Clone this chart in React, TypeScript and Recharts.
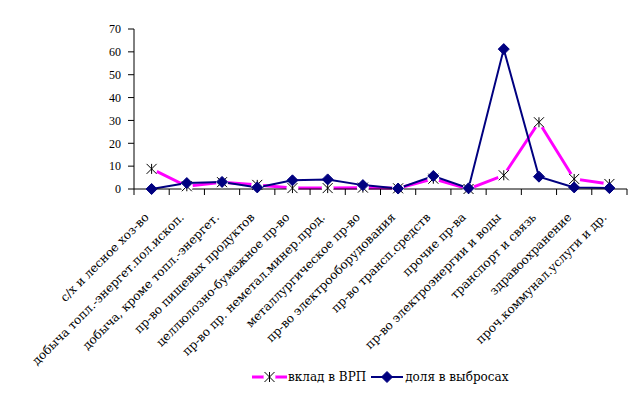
import React from 'react';
import { LineChart, Line, XAxis, YAxis, Legend } from 'recharts';

const categories = [
  'с/х и лесное хоз-во',
  'добыча топл.-энергет.пол.ископ.',
  'добыча, кроме  топл.-энергет.',
  'пр-во пищевых продуктов',
  'целлюлозно-бумажное пр-во',
  'пр-во пр. неметал.минер.прод.',
  'металлургическое пр-во',
  'пр-во электрооборудования',
  'пр-во трансп.средств',
  'прочие пр-ва',
  'пр-во электроэнергии и воды',
  'транспорт и связь',
  'здравоохранение',
  'проч.коммунал.услуги и др.',
];
const vrpShare = [8.8, 1.2, 3, 1.8, 0.4, 0.4, 0.6, 0.3, 4.5, 0, 6, 29.2, 4.4, 2.2];
const emissionShare = [0, 2.6, 3.1, 0.7, 3.8, 4.2, 1.7, 0.2, 5.7, 0.3, 61.2, 5.4, 0.7, 0.4];
const yTicks = [0, 10, 20, 30, 40, 50, 60, 70];

const data = categories.map((c, i) => ({ name: c, vrp: vrpShare[i], emis: emissionShare[i] }));

const FONT = '"Liberation Serif", "Times New Roman", serif';
const LABEL_FONT = '"DejaVu Serif", serif';
const MAGENTA = '#FF00FF';
const NAVY = '#000080';
const PLOT_BOTTOM = 189;

const StarDot = (props: any) => {
  const { cx, cy } = props;
  if (cx == null || cy == null) return null;
  const r = 5;
  return (
    <g>
      <circle cx={cx} cy={cy} r={6} fill="#fff" stroke="none" />
      <line x1={cx - r} y1={cy - r} x2={cx + r} y2={cy + r} stroke="#000" strokeWidth={1} />
      <line x1={cx - r} y1={cy + r} x2={cx + r} y2={cy - r} stroke="#000" strokeWidth={1} />
      <line x1={cx} y1={cy - r} x2={cx} y2={cy + r} stroke="#000" strokeWidth={1} />
    </g>
  );
};

const DiamondDot = (props: any) => {
  const { cx, cy } = props;
  if (cx == null || cy == null) return null;
  const r = 5.5;
  return <path d={`M${cx},${cy - r}L${cx + r},${cy}L${cx},${cy + r}L${cx - r},${cy}Z`} fill={NAVY} stroke={NAVY} />;
};

const CatTick = (props: any) => {
  const { x, payload, index, width, visibleTicksCount } = props;
  const n = visibleTicksCount || categories.length;
  const half = (width || 493) / n / 2;
  const y = PLOT_BOTTOM;
  return (
    <g>
      <line x1={x - half} y1={y} x2={x - half} y2={y + 6} stroke="#000" strokeWidth={1} />
      {index === n - 1 ? <line x1={x + half} y1={y} x2={x + half} y2={y + 6} stroke="#000" strokeWidth={1} /> : null}
      <g transform={`translate(${x - 2},${y + 29})`}>
        <text x={0} y={0} textAnchor="end" transform="rotate(-45)" fontSize={12} fontFamily={LABEL_FONT} fill="#000">
          {payload.value}
        </text>
      </g>
    </g>
  );
};

const LegendContent = () => (
  <div style={{ display: 'flex', alignItems: 'center', fontFamily: LABEL_FONT, fontSize: 12, color: '#000', height: 30 }}>
    <svg width={35} height={14}>
      <line x1={0} y1={7} x2={35} y2={7} stroke={MAGENTA} strokeWidth={3} />
      <StarDot cx={17.5} cy={7} />
    </svg>
    <span style={{ marginLeft: 1, marginRight: 5, whiteSpace: 'pre' }}>вклад в ВРП</span>
    <svg width={32} height={14}>
      <line x1={0} y1={7} x2={32} y2={7} stroke={NAVY} strokeWidth={2} />
      <DiamondDot cx={16} cy={7} />
    </svg>
    <span style={{ marginLeft: 2, whiteSpace: 'pre' }}>доля в выбросах</span>
  </div>
);

export default function App() {
  return (
    <div style={{ position: 'absolute', left: 0, top: 0, background: '#fff' }}>
      <LineChart width={643} height={395} data={data} margin={{ top: 29, right: 16, left: 0, bottom: 3 }}>
        <XAxis
          dataKey="name"
          scale="band"
          interval={0}
          height={173}
          axisLine={{ stroke: '#000' }}
          tickLine={false}
          tick={<CatTick />}
        />
        <YAxis
          width={134}
          domain={[0, 70]}
          ticks={yTicks}
          tickSize={6}
          tickMargin={7}
          stroke="#000"
          tick={{ fontSize: 12, fontFamily: FONT, fill: '#000' }}
          axisLine={{ stroke: '#000' }}
          tickLine={{ stroke: '#000' }}
        />
        <Legend
          verticalAlign="bottom"
          content={<LegendContent />}
          wrapperStyle={{ left: 252, width: 'auto', height: 30 }}
        />
        <Line
          dataKey="vrp"
          name="вклад в ВРП"
          stroke={MAGENTA}
          strokeWidth={3}
          dot={<StarDot />}
          activeDot={false}
          isAnimationActive={false}
        />
        <Line
          dataKey="emis"
          name="доля в выбросах"
          stroke={NAVY}
          strokeWidth={2}
          dot={<DiamondDot />}
          activeDot={false}
          isAnimationActive={false}
        />
      </LineChart>
    </div>
  );
}
